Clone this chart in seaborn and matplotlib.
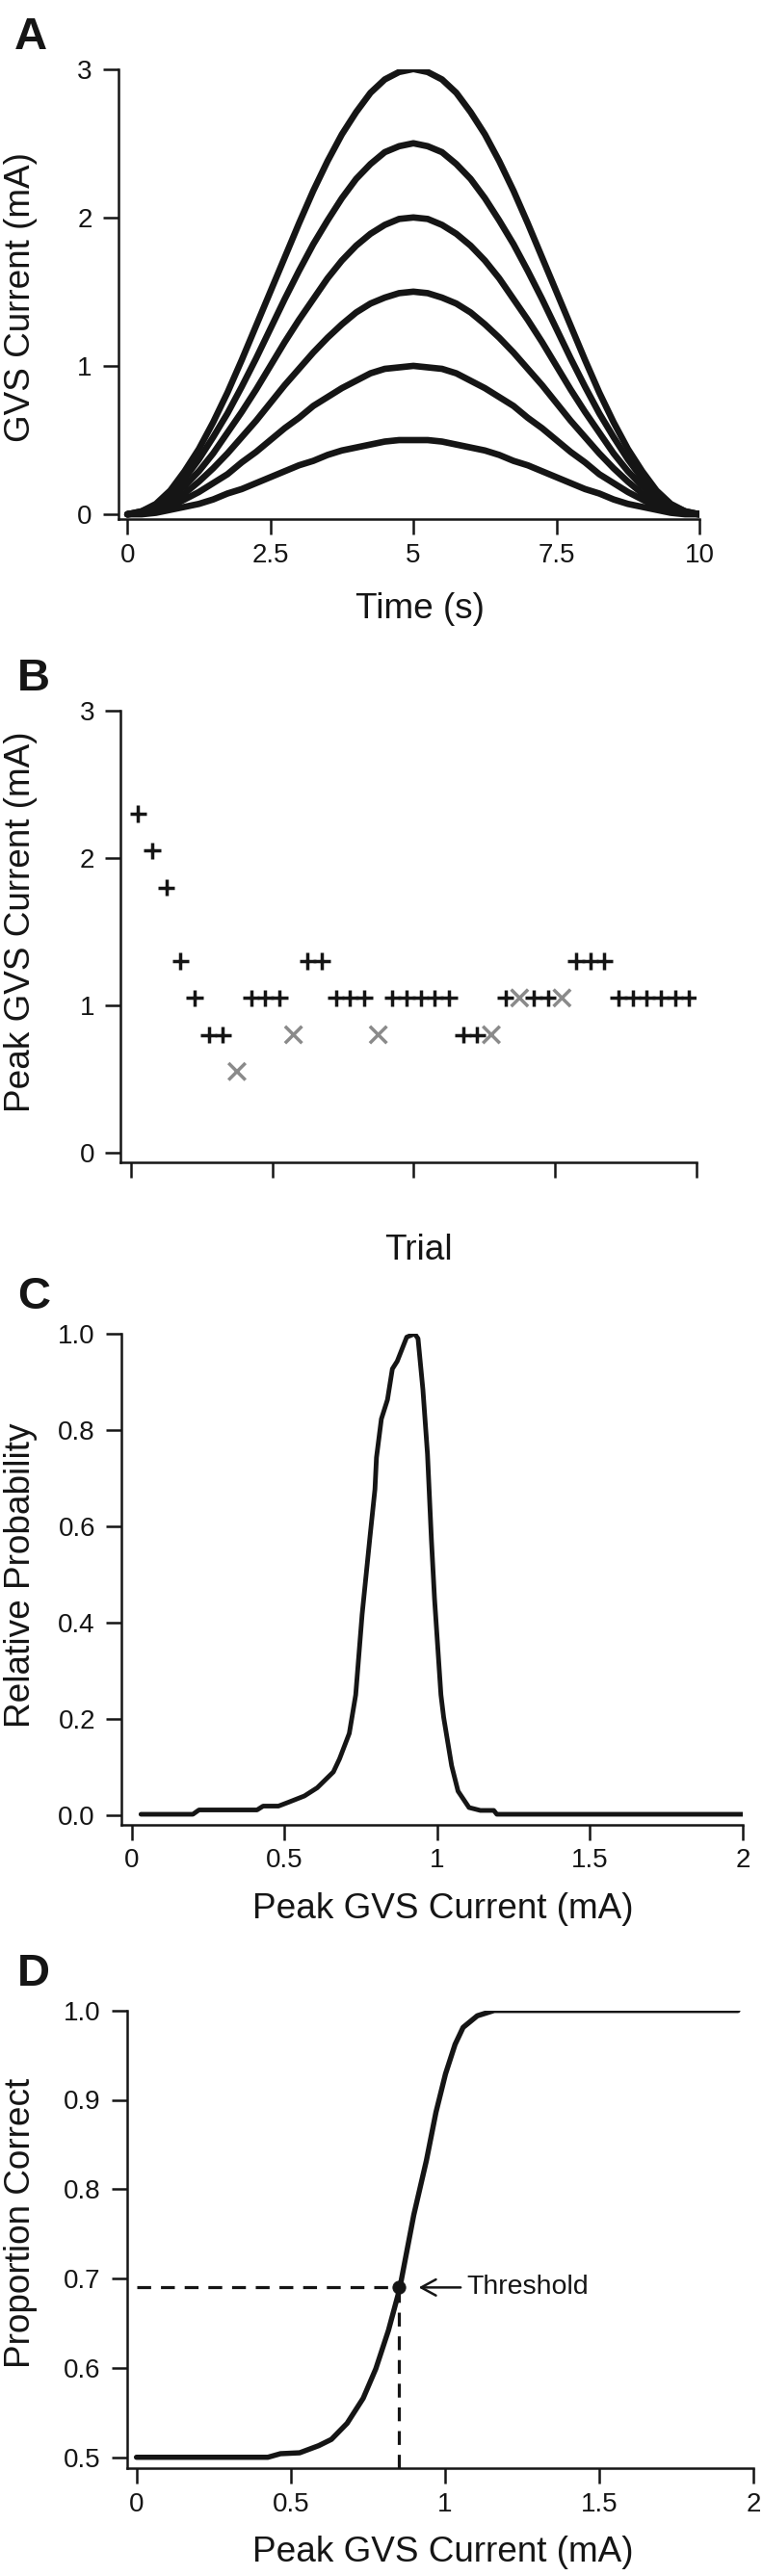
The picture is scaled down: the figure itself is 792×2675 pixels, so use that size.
import matplotlib
matplotlib.use("Agg")
import matplotlib.pyplot as plt
import numpy as np
import pandas as pd
import seaborn as sns

# ---------------- data ----------------
# Panel A: GVS stimulus waveforms (0.25 s steps)
time_s = [0.0, 0.25, 0.5, 0.75, 1.0, 1.25, 1.5, 1.75, 2.0, 2.25, 2.5,
          2.75, 3.0, 3.25, 3.5, 3.75, 4.0, 4.25, 4.5, 4.75, 5.0,
          5.25, 5.5, 5.75, 6.0, 6.25, 6.5, 6.75, 7.0, 7.25, 7.5,
          7.75, 8.0, 8.25, 8.5, 8.75, 9.0, 9.25, 9.5, 9.75, 10.0]
wave_3_0 = [0.00, 0.02, 0.07, 0.16, 0.29, 0.44, 0.62, 0.82, 1.04, 1.27, 1.50,
            1.73, 1.96, 2.18, 2.38, 2.56, 2.71, 2.84, 2.93, 2.98, 3.00,
            2.98, 2.93, 2.84, 2.71, 2.56, 2.38, 2.18, 1.96, 1.73, 1.50,
            1.27, 1.04, 0.82, 0.62, 0.44, 0.29, 0.16, 0.07, 0.02, 0.00]
wave_2_5 = [0.00, 0.02, 0.06, 0.14, 0.24, 0.37, 0.52, 0.68, 0.86, 1.05, 1.25,
            1.45, 1.64, 1.82, 1.98, 2.13, 2.26, 2.36, 2.44, 2.48, 2.50,
            2.48, 2.44, 2.36, 2.26, 2.13, 1.98, 1.82, 1.64, 1.45, 1.25,
            1.05, 0.86, 0.68, 0.52, 0.37, 0.24, 0.14, 0.06, 0.02, 0.00]
wave_2_0 = [0.00, 0.01, 0.05, 0.11, 0.19, 0.29, 0.41, 0.55, 0.69, 0.84, 1.00,
            1.16, 1.31, 1.45, 1.59, 1.71, 1.81, 1.89, 1.95, 1.99, 2.00,
            1.99, 1.95, 1.89, 1.81, 1.71, 1.59, 1.45, 1.31, 1.16, 1.00,
            0.84, 0.69, 0.55, 0.41, 0.29, 0.19, 0.11, 0.05, 0.01, 0.00]
wave_1_5 = [0.00, 0.01, 0.04, 0.08, 0.14, 0.22, 0.31, 0.41, 0.52, 0.63, 0.75,
            0.87, 0.98, 1.09, 1.19, 1.28, 1.36, 1.42, 1.46, 1.49, 1.50,
            1.49, 1.46, 1.42, 1.36, 1.28, 1.19, 1.09, 0.98, 0.87, 0.75,
            0.63, 0.52, 0.41, 0.31, 0.22, 0.14, 0.08, 0.04, 0.01, 0.00]
wave_1_0 = [0.00, 0.01, 0.02, 0.05, 0.10, 0.15, 0.21, 0.27, 0.35, 0.42, 0.50,
            0.58, 0.65, 0.73, 0.79, 0.85, 0.90, 0.95, 0.98, 0.99, 1.00,
            0.99, 0.98, 0.95, 0.90, 0.85, 0.79, 0.73, 0.65, 0.58, 0.50,
            0.42, 0.35, 0.27, 0.21, 0.15, 0.10, 0.05, 0.02, 0.01, 0.00]
wave_0_5 = [0.00, 0.00, 0.01, 0.03, 0.05, 0.07, 0.10, 0.14, 0.17, 0.21, 0.25,
            0.29, 0.33, 0.36, 0.40, 0.43, 0.45, 0.47, 0.49, 0.50, 0.50,
            0.50, 0.49, 0.47, 0.45, 0.43, 0.40, 0.36, 0.33, 0.29, 0.25,
            0.21, 0.17, 0.14, 0.10, 0.07, 0.05, 0.03, 0.01, 0.00, 0.00]
wave_peaks = [3.0, 2.5, 2.0, 1.5, 1.0, 0.5]
waves = [wave_3_0, wave_2_5, wave_2_0, wave_1_5, wave_1_0, wave_0_5]
a_xticks = [0, 2.5, 5, 7.5, 10]
a_xticklabels = ["0", "2.5", "5", "7.5", "10"]
a_yticks = [0, 1, 2, 3]

# Panel B: staircase trials
trial = list(range(1, 41))
trial_current = [2.30, 2.05, 1.80, 1.30, 1.05, 0.80, 0.80, 0.55, 1.05, 1.05,
                 1.05, 0.80, 1.30, 1.30, 1.05, 1.05, 1.05, 0.80, 1.05, 1.05,
                 1.05, 1.05, 1.05, 0.80, 0.80, 0.80, 1.05, 1.05, 1.05, 1.05,
                 1.05, 1.30, 1.30, 1.30, 1.05, 1.05, 1.05, 1.05, 1.05, 1.05]
incorrect_trials = [8, 12, 18, 26, 28, 31]
b_xticks = [0.5, 10.5, 20.5, 30.5, 40.5]
b_yticks = [0, 1, 2, 3]

# Panel C: relative probability of threshold
c_current = [0.03, 0.20, 0.22, 0.41, 0.43, 0.48, 0.513, 0.565, 0.607, 0.66,
             0.68, 0.712, 0.733, 0.754, 0.78, 0.796, 0.801, 0.817, 0.837, 0.853,
             0.869, 0.90, 0.926, 0.937, 0.953, 0.968, 0.981, 0.991, 1.012, 1.021,
             1.047, 1.068, 1.104, 1.141, 1.185, 1.195, 2.0]
c_prob = [0.002, 0.002, 0.011, 0.011, 0.019, 0.019, 0.027, 0.040, 0.057, 0.090,
          0.117, 0.170, 0.250, 0.417, 0.580, 0.677, 0.743, 0.823, 0.863, 0.927,
          0.943, 0.993, 1.000, 0.990, 0.884, 0.750, 0.570, 0.450, 0.250, 0.203,
          0.103, 0.050, 0.016, 0.010, 0.010, 0.002, 0.002]
c_xticks = [0, 0.5, 1, 1.5, 2]
c_xticklabels = ["0", "0.5", "1", "1.5", "2"]
c_yticks = [0.0, 0.2, 0.4, 0.6, 0.8, 1.0]

# Panel D: psychometric function
d_current = [0.0, 0.426, 0.467, 0.529, 0.591, 0.632, 0.683, 0.735, 0.776, 0.817,
             0.853, 0.899, 0.940, 0.971, 1.002, 1.033, 1.059, 1.105, 1.160, 1.950]
d_correct = [0.500, 0.500, 0.504, 0.505, 0.513, 0.520, 0.538, 0.566, 0.599, 0.642,
             0.688, 0.771, 0.832, 0.886, 0.929, 0.962, 0.981, 0.994, 1.000, 1.000]
threshold_x = 0.85
threshold_y = 0.69
d_xticks = [0, 0.5, 1, 1.5, 2]
d_xticklabels = ["0", "0.5", "1", "1.5", "2"]
d_yticks = [0.5, 0.6, 0.7, 0.8, 0.9, 1.0]

# ---------------- style ----------------
sns.set_theme(style="ticks")
plt.rcParams["font.family"] = ["Liberation Sans", "DejaVu Sans"]

INK = "#151515"
GRAY = "#8a8a8a"
W, H = 792, 2675
LABEL_FS = 26.6
TICK_FS = 20

fig = plt.figure(figsize=(W / 100, H / 100), dpi=100)
fig.patch.set_facecolor("white")


def add_axes(x0, x1, ytop, ybot):
    return fig.add_axes([x0 / W, 1 - ybot / H, (x1 - x0) / W, (ybot - ytop) / H])


def style_axes(ax, xlabel, ylabel, xlab_pos, ylab_pos):
    sns.despine(ax=ax)
    for s in ("left", "bottom"):
        ax.spines[s].set_linewidth(1.8)
        ax.spines[s].set_color(INK)
    ax.set_facecolor("white")
    ax.tick_params(axis="both", direction="out", length=11.5, width=1.8,
                   color=INK, labelcolor=INK, labelsize=TICK_FS)
    ax.tick_params(axis="y", pad=8)
    ax.tick_params(axis="x", pad=6)
    ax.set_xlabel(xlabel, fontsize=LABEL_FS, color=INK)
    ax.set_ylabel(ylabel, fontsize=LABEL_FS, color=INK)
    ax.xaxis.set_label_coords(xlab_pos[0] / W, 1 - xlab_pos[1] / H,
                              transform=fig.transFigure)
    ax.xaxis.label.set_va("center")
    ax.yaxis.set_label_coords(ylab_pos[0] / W, 1 - ylab_pos[1] / H,
                              transform=fig.transFigure)
    ax.yaxis.label.set_va("center")
    ax.grid(False)


# ---------------- Panel A ----------------
axA = add_axes(122.7, 726, 71.7, 539.3)
dfA = pd.DataFrame({
    "time": np.tile(time_s, len(waves)),
    "current": np.concatenate(waves),
    "peak": np.repeat(wave_peaks, len(time_s)),
})
sns.lineplot(data=dfA, x="time", y="current", units="peak", estimator=None,
             sort=False, color=INK, lw=4.8, ax=axA, solid_capstyle="round",
             solid_joinstyle="round")
axA.set_xlim(-0.16, 10)
axA.set_ylim(-0.034, 3)
axA.set_xticks(a_xticks)
axA.set_xticklabels(a_xticklabels)
axA.set_yticks(a_yticks)
style_axes(axA, "Time (s)", "GVS Current (mA)", (436, 633), (21.5, 309))

# ---------------- Panel B ----------------
axB = add_axes(125, 722.7, 738.3, 1206.7)
dfB = pd.DataFrame({"trial": trial, "current": trial_current})
dfB["response"] = np.where(dfB["trial"].isin(incorrect_trials), "incorrect", "correct")
sns.scatterplot(data=dfB, x="trial", y="current", hue="response", style="response",
                markers={"correct": "+", "incorrect": "x"},
                palette={"correct": INK, "incorrect": GRAY},
                s=160, linewidth=2.5, legend=False, ax=axB)
axB.set_xlim(-0.25, 40.5)
axB.set_ylim(-0.065, 3)
axB.set_xticks(b_xticks)
axB.set_xticklabels([])
axB.set_yticks(b_yticks)
style_axes(axB, "Trial", "Peak GVS Current (mA)", (434, 1298), (21.5, 957))

# ---------------- Panel C ----------------
axC = add_axes(126, 771, 1385, 1895)
sns.lineplot(x=c_current, y=c_prob, estimator=None, sort=False, color=INK,
             lw=3.5, ax=axC, solid_capstyle="round", solid_joinstyle="round")
axC.set_xlim(-0.034, 2)
axC.set_ylim(-0.02, 1.0)
axC.set_xticks(c_xticks)
axC.set_xticklabels(c_xticklabels)
axC.set_yticks(c_yticks)
axC.set_yticklabels([f"{v:.1f}" for v in c_yticks])
style_axes(axC, "Peak GVS Current (mA)", "Relative Probability", (460, 1983), (21.5, 1636))

# ---------------- Panel D ----------------
axD = add_axes(131.7, 782, 2087.7, 2563.3)
d_ylo = 0.4875
axD.plot([0, threshold_x], [threshold_y, threshold_y], color=INK, lw=2.3,
         linestyle=(0, (4.5, 3.2)))
axD.plot([threshold_x, threshold_x], [d_ylo, threshold_y], color=INK, lw=2.3,
         linestyle=(0, (4.5, 3.2)))
sns.lineplot(x=d_current, y=d_correct, estimator=None, sort=False, color=INK,
             lw=3.9, ax=axD, solid_capstyle="round", solid_joinstyle="round")
sns.scatterplot(x=[threshold_x], y=[threshold_y], s=90, color=INK,
                edgecolor=INK, ax=axD, zorder=5)
axD.annotate("Threshold", xy=(0.915, threshold_y), xytext=(1.07, threshold_y),
             ha="left", va="center", fontsize=20.5, color=INK,
             arrowprops=dict(arrowstyle="->,head_length=0.55,head_width=0.3",
                             lw=1.8, color=INK, shrinkA=2, shrinkB=0,
                             mutation_scale=20))
axD.set_xlim(-0.031, 2)
axD.set_ylim(d_ylo, 1.0)
axD.set_xticks(d_xticks)
axD.set_xticklabels(d_xticklabels)
axD.set_yticks(d_yticks)
axD.set_yticklabels([f"{v:.1f}" for v in d_yticks])
style_axes(axD, "Peak GVS Current (mA)", "Proportion Correct", (460, 2650), (21.5, 2308))

# ---------------- panel letters ----------------
for letter, x, yb in [("A", 15, 51), ("B", 18, 717), ("C", 18, 1359), ("D", 18, 2062)]:
    fig.text(x / W, 1 - yb / H, letter, fontsize=34, fontweight="bold",
             ha="left", va="baseline", color=INK)

fig.savefig("out.png", dpi=100, facecolor="white")
